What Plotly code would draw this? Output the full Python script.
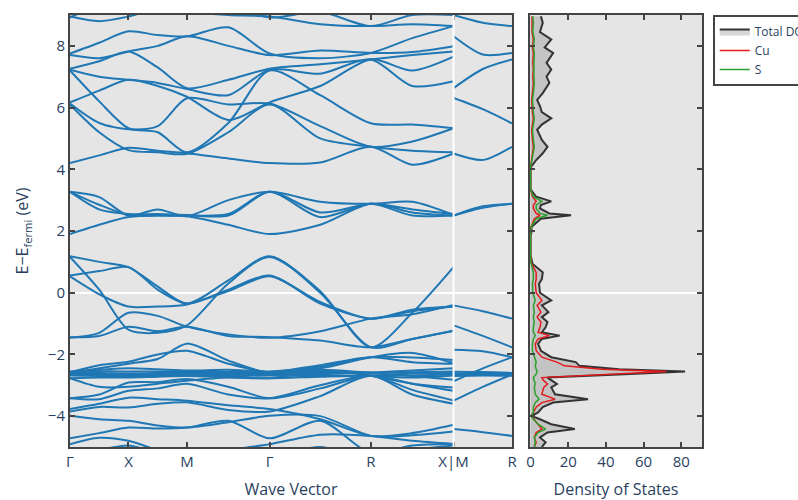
import plotly.graph_objects as go

# ---------------- k-path ----------------
k_path = [0.0, 0.25, 0.5, 0.75, 1.0, 1.354, 1.707, 2.140, 2.573, 2.927, 3.280]
k_mr = [3.280, 3.530, 3.780]
k_ticks = [0.0, 0.5, 1.0, 1.707, 2.573, 3.280, 3.780]
k_labels = ["Γ", "X", "M", "Γ", "R", "X|M", "R"]

# ---------------- bands along Γ-X-M-Γ-R-X (eV) ----------------
bands_upper = [
    [4.20, 4.45, 4.70, 4.60, 4.52, 4.35, 4.20, 4.22, 4.73, 4.15, 4.51],
    [6.10, 5.20, 4.62, 4.55, 4.50, 5.20, 6.10, 5.00, 4.73, 4.60, 4.55],
    [6.13, 5.50, 5.30, 5.40, 6.30, 6.10, 6.13, 5.40, 4.73, 4.90, 5.33],
    [6.17, 6.55, 6.90, 6.70, 6.35, 5.60, 6.17, 6.70, 7.56, 7.20, 7.65],
    [7.20, 6.20, 5.33, 5.20, 4.55, 5.50, 7.20, 6.40, 5.49, 5.45, 5.33],
    [7.23, 7.00, 6.90, 6.80, 6.60, 6.40, 7.23, 7.10, 7.56, 6.70, 6.85],
    [7.26, 7.50, 7.82, 7.30, 6.63, 6.90, 7.26, 7.40, 7.56, 7.70, 7.82],
    [7.70, 7.60, 7.82, 8.00, 8.31, 8.00, 7.70, 7.85, 7.77, 7.80, 7.99],
    [7.75, 8.10, 8.47, 8.35, 8.31, 8.60, 7.75, 7.60, 7.77, 8.25, 8.64],
    [8.95, 8.80, 8.95, 9.20, 9.10, 9.00, 8.95, 8.70, 8.64, 8.70, 8.64],
    [8.92, 9.30, 9.40, 9.40, 9.30, 9.30, 8.92, 9.10, 8.64, 9.00, 9.00],
]
bands_cond = [
    [1.90, 2.20, 2.45, 2.50, 2.48, 2.20, 1.90, 2.20, 2.88, 2.60, 2.50],
    [3.27, 3.10, 2.50, 2.70, 2.48, 3.00, 3.27, 2.95, 2.88, 2.95, 2.52],
    [3.27, 2.85, 2.52, 2.50, 2.50, 2.55, 3.27, 2.45, 2.88, 2.50, 2.50],
    [3.27, 2.70, 2.55, 2.55, 2.52, 2.50, 3.27, 2.60, 2.88, 2.70, 2.55],
]
bands_fermi = [
    [1.18, 1.00, 0.83, 0.20, -0.35, 0.40, 1.18, 0.05, -1.77, -0.65, 0.83],
    [0.56, 0.70, 0.83, 0.10, -0.35, 0.10, 0.56, -0.35, -0.84, -0.60, -0.45],
    [0.53, -0.05, -0.45, -0.45, -0.38, 0.05, 0.53, -0.30, -0.84, -0.55, -0.45],
    [1.16, 0.10, -1.20, -1.30, -1.06, 0.30, 1.16, 0.00, -1.77, -1.50, -1.23],
    [-1.46, -1.30, -0.65, -0.75, -1.10, -1.35, -1.46, -1.25, -0.84, -0.70, -0.40],
    [-1.44, -1.40, -1.10, -1.25, -1.10, -1.40, -1.44, -1.55, -1.77, -1.50, -1.23],
]
bands_d = [
    [-2.55, -2.50, -2.45, -2.48, -2.52, -2.50, -2.55, -2.40, -2.09, -2.10, -2.18],
    [-2.58, -2.55, -2.55, -2.55, -2.56, -2.56, -2.58, -2.35, -2.09, -2.25, -2.30],
    [-2.60, -2.60, -2.62, -2.60, -2.58, -2.58, -2.60, -2.55, -2.58, -2.52, -2.45],
    [-2.62, -2.64, -2.65, -2.62, -2.60, -2.62, -2.62, -2.60, -2.60, -2.58, -2.55],
    [-2.65, -2.66, -2.68, -2.66, -2.63, -2.66, -2.65, -2.66, -2.69, -2.62, -2.60],
    [-2.68, -2.70, -2.72, -2.70, -2.66, -2.70, -2.68, -2.70, -2.69, -2.68, -2.65],
    [-2.77, -2.75, -2.75, -2.72, -2.70, -2.74, -2.77, -2.72, -2.69, -2.75, -2.68],
    [-2.58, -2.35, -2.24, -2.00, -1.88, -2.30, -2.58, -2.45, -2.09, -1.95, -2.28],
    [-2.60, -2.45, -2.30, -2.15, -1.65, -2.20, -2.60, -2.50, -2.60, -2.70, -2.82],
    [-2.77, -3.05, -3.05, -2.95, -2.85, -2.75, -2.77, -2.55, -2.69, -2.95, -3.07],
]
bands_low = [
    [-3.42, -3.30, -2.91, -2.90, -2.80, -3.05, -3.42, -3.10, -2.69, -2.95, -3.18],
    [-3.42, -3.45, -3.18, -3.10, -2.95, -3.30, -3.42, -3.00, -2.69, -3.15, -3.49],
    [-3.77, -3.60, -3.40, -3.45, -3.50, -3.65, -3.77, -4.10, -4.64, -4.55, -4.28],
    [-3.85, -3.70, -3.72, -3.60, -3.55, -3.80, -3.85, -3.35, -2.69, -3.30, -3.60],
    [-3.99, -4.10, -4.15, -4.30, -4.37, -4.20, -3.99, -4.00, -4.64, -4.62, -4.50],
    [-4.72, -4.55, -4.37, -4.40, -4.37, -4.15, -4.72, -4.15, -5.20, -4.95, -4.90],
    [-4.91, -4.70, -4.80, -5.10, -5.30, -5.10, -4.91, -4.60, -4.64, -4.80, -4.90],
    [-5.30, -5.10, -4.95, -5.20, -5.40, -5.20, -5.30, -5.00, -5.40, -5.10, -4.95],
]
# ---------------- bands along M-R ----------------
bands_mr = [
    [9.00, 8.75, 8.64], [8.31, 7.72, 7.77], [6.63, 7.25, 7.56], [6.31, 5.95, 5.49],
    [4.51, 4.30, 4.73], [2.50, 2.80, 2.88], [2.50, 2.75, 2.88],
    [-0.41, -0.60, -0.84], [-1.06, -1.40, -1.77], [-1.85, -1.90, -2.09],
    [-2.87, -2.45, -2.09], [-2.56, -2.57, -2.60], [-2.62, -2.63, -2.62],
    [-2.66, -2.66, -2.64], [-2.70, -2.68, -2.69], [-3.50, -3.05, -2.65],
    [-4.42, -4.52, -4.64],
]

# ---------------- density of states ----------------
dos_energy = [-5.0, -4.85, -4.69, -4.53, -4.42, -4.26, -4.10, -3.99, -3.88, -3.71,
              -3.56, -3.45, -3.29, -3.07, -2.96, -2.85, -2.75, -2.64, -2.55, -2.48,
              -2.37, -2.25, -2.09, -1.88, -1.66, -1.50, -1.39, -1.28, -1.12, -0.95,
              -0.79, -0.63, -0.41, -0.25, 0.0, 0.29, 0.44, 0.66, 0.94, 1.10,
              1.20, 1.85, 1.95, 2.13, 2.24, 2.40, 2.51, 2.57, 2.73, 2.84,
              2.96, 3.11, 3.27, 3.35, 4.05, 4.14, 4.30, 4.52, 4.73, 4.95,
              5.28, 5.45, 5.65, 5.85, 6.05, 6.25, 6.47, 6.80, 7.00, 7.23,
              7.45, 7.77, 7.95, 8.21, 8.45, 8.75, 8.96]
dos_total = [6.0, 8.0, 5.0, 9.0, 23.5, 11.0, 5.0, 0.5, 4.0, 6.5,
             12.0, 30.5, 13.0, 11.0, 14.0, 11.5, 9.0, 50.0, 82.0, 47.0,
             26.0, 24.0, 11.0, 5.5, 4.0, 6.0, 15.5, 6.0, 8.0, 9.0,
             6.0, 9.5, 6.0, 11.0, 5.0, 4.5, 6.0, 6.5, 1.0, 0.5,
             0.0, 0.0, 0.5, 0.5, 2.5, 5.5, 21.5, 10.0, 5.0, 5.5,
             11.0, 3.0, 1.0, 0.0, 0.0, 1.0, 3.0, 6.5, 9.0, 6.0,
             3.5, 6.0, 11.0, 6.0, 5.0, 3.5, 6.5, 10.0, 8.5, 11.0,
             8.5, 12.0, 7.5, 11.0, 5.0, 6.5, 5.5]
dos_cu = [2.0, 3.0, 2.0, 3.0, 6.0, 4.0, 2.0, 0.3, 1.5, 3.0,
          6.0, 13.0, 6.0, 7.0, 9.0, 7.0, 6.0, 42.0, 72.0, 38.0,
          18.0, 14.0, 6.0, 3.0, 2.5, 4.0, 10.0, 4.0, 5.0, 5.5,
          3.5, 5.5, 3.5, 6.0, 3.0, 2.5, 3.0, 3.0, 0.5, 0.3,
          0.0, 0.0, 0.2, 0.2, 1.0, 2.0, 5.0, 3.0, 1.5, 1.5,
          3.0, 1.0, 0.3, 0.0, 0.0, 0.2, 0.5, 1.0, 1.5, 1.0,
          0.6, 1.0, 1.5, 1.0, 0.8, 0.6, 1.0, 1.5, 1.2, 1.5,
          1.2, 1.5, 1.0, 1.5, 0.8, 1.0, 0.8]
dos_s = [2.0, 2.5, 2.0, 4.0, 8.0, 4.0, 1.5, 0.2, 1.5, 1.5,
         2.5, 4.5, 2.5, 2.0, 2.5, 2.0, 1.5, 3.0, 3.5, 3.0,
         2.5, 3.0, 2.0, 1.0, 1.0, 1.5, 2.5, 1.5, 1.5, 2.0,
         1.5, 2.0, 1.5, 2.5, 1.2, 1.0, 1.5, 1.5, 0.3, 0.1,
         0.0, 0.0, 0.3, 0.3, 1.5, 3.0, 9.0, 5.0, 3.0, 3.0,
         6.0, 1.5, 0.5, 0.0, 0.0, 0.3, 0.8, 1.5, 2.0, 1.5,
         1.0, 1.5, 2.0, 1.5, 1.2, 1.0, 1.5, 2.0, 1.8, 2.0,
         1.8, 2.0, 1.5, 2.0, 1.2, 1.5, 1.2]
dos_ticks = [0, 20, 40, 60, 80]

BAND_COLOR = "#1f77b4"
AX = "#444444"

fig = go.Figure()

for band in bands_upper + bands_cond + bands_fermi + bands_d + bands_low:
    fig.add_trace(go.Scatter(x=k_path, y=band, mode="lines", showlegend=False,
                             hoverinfo="skip", xaxis="x", yaxis="y",
                             line=dict(color=BAND_COLOR, width=2, shape="spline", smoothing=0.8)))
for band in bands_mr:
    fig.add_trace(go.Scatter(x=k_mr, y=band, mode="lines", showlegend=False,
                             hoverinfo="skip", xaxis="x", yaxis="y",
                             line=dict(color=BAND_COLOR, width=2, shape="spline", smoothing=0.8)))

fig.add_trace(go.Scatter(x=dos_total, y=dos_energy, mode="lines", name="Total DOS",
                         fill="tozerox", fillcolor="rgba(120,120,120,0.3)",
                         line=dict(color="#333333", width=2), xaxis="x2", yaxis="y2"))
fig.add_trace(go.Scatter(x=dos_cu, y=dos_energy, mode="lines", name="Cu",
                         line=dict(color="#e41a1c", width=1.5), xaxis="x2", yaxis="y2"))
fig.add_trace(go.Scatter(x=dos_s, y=dos_energy, mode="lines", name="S",
                         line=dict(color="#2ca02c", width=1.5), xaxis="x2", yaxis="y2"))

axis_common = dict(showline=True, linecolor=AX, linewidth=2, mirror="ticks",
                   ticks="inside", ticklen=5, tickwidth=2, tickcolor=AX,
                   showgrid=False, tickfont=dict(size=15, color="#2a3f5f"),
                   title_font=dict(size=16, color="#2a3f5f"))

fig.update_layout(
    width=798, height=500,
    margin=dict(l=70, r=96, t=15, b=53, autoexpand=False),
    paper_bgcolor="white", plot_bgcolor="#e5e5e5",
    font=dict(family="Open Sans, sans-serif", color="#2a3f5f"),
    xaxis=dict(domain=[0, 0.6994], range=[k_ticks[0], k_ticks[-1]], tickmode="array",
               tickvals=k_ticks, ticktext=k_labels, zeroline=False, anchor="y",
               title=dict(text="Wave Vector"), **axis_common),
    yaxis=dict(range=[-5, 9], dtick=2, zeroline=True, zerolinecolor="white",
               zerolinewidth=2, anchor="x",
               title=dict(text="E−E<sub>fermi</sub> (eV)"), **axis_common),
    xaxis2=dict(domain=[0.7278, 1.0], range=[-0.3, 91], tickmode="array",
                tickvals=dos_ticks, zeroline=False, anchor="y2",
                title=dict(text="Density of States"), **axis_common),
    yaxis2=dict(matches="y", range=[-5, 9], dtick=2, anchor="x2", showticklabels=False,
                zeroline=True, zerolinecolor="white", zerolinewidth=2, **axis_common),
    legend=dict(x=1.017, y=1.0, xanchor="left", yanchor="top",
                bgcolor="white", bordercolor=AX, borderwidth=2,
                font=dict(size=12, color="#2a3f5f")),
    shapes=[dict(type="line", xref="x", yref="y domain", x0=k_ticks[5], x1=k_ticks[5],
                 y0=0, y1=1, line=dict(color="white", width=2), layer="above")],
)

fig.write_html("out.html", config={"displayModeBar": False},
               post_script="document.body.style.margin='0';document.body.style.overflow='hidden';")
